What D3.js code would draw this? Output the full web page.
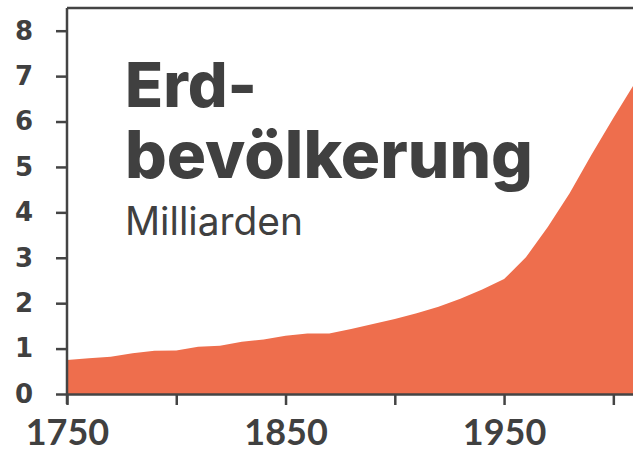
<!DOCTYPE html>
<html>
<head>
<meta charset="utf-8">
<script src="https://cdn.jsdelivr.net/npm/d3@7"></script>
<style>
  body { margin: 0; background: #fff; }
  .axis text { font-family: Lato, sans-serif; font-weight: 700; fill: #404040; }
  .y.axis text { font-family: "DejaVu Sans", sans-serif; }
  .axis path, .axis line { stroke: #444; stroke-width: 2.5; }
</style>
</head>
<body>
<div id="chart"></div>
<script>
// world population in billions
var years  = [1750, 1760, 1770, 1780, 1790, 1800, 1810, 1820, 1830, 1840, 1850, 1860, 1870, 1880, 1890,
              1900, 1910, 1920, 1930, 1940, 1950, 1960, 1970, 1980, 1990, 2000, 2009];
var values = [0.75, 0.785, 0.82, 0.90, 0.95, 0.96, 1.04, 1.06, 1.15, 1.20, 1.28, 1.33, 1.33, 1.43, 1.54,
              1.65, 1.78, 1.92, 2.10, 2.30, 2.53, 3.01, 3.68, 4.42, 5.27, 6.08, 6.78];
var yTicks = [0, 1, 2, 3, 4, 5, 6, 7, 8];
var xTicks = [1750, 1800, 1850, 1900, 1950, 2000];
var xLabels = [1750, 1850, 1950];

var margin = {top: 8, right: 0, bottom: 59, left: 67},
    width = 633 - margin.left - margin.right,
    height = 453 - margin.top - margin.bottom;

var data = years.map(function(d, i) { return {year: d, pop: values[i]}; });

var x = d3.scaleLinear().domain([1750, 2009]).range([0, width]);
var y = d3.scaleLinear().domain([0, 8.5]).range([height, 0]);

var svg = d3.select("#chart").append("svg")
    .attr("width", width + margin.left + margin.right)
    .attr("height", height + margin.top + margin.bottom)
  .append("g")
    .attr("transform", "translate(" + margin.left + "," + margin.top + ")");

var area = d3.area()
    .x(function(d) { return x(d.year); })
    .y0(height)
    .y1(function(d) { return y(d.pop); });

svg.append("path")
    .datum(data)
    .attr("fill", "#ee6e4d")
    .attr("d", area);

// top frame line
svg.append("line")
    .attr("x1", 0).attr("x2", width)
    .attr("y1", 0).attr("y2", 0)
    .attr("stroke", "#444")
    .attr("stroke-width", 2.5);

var xAxis = d3.axisBottom(x)
    .tickValues(xTicks)
    .tickSize(11)
    .tickSizeOuter(0)
    .tickPadding(14)
    .tickFormat(function(d) { return xLabels.indexOf(d) >= 0 ? d : ""; });

svg.append("g")
    .attr("class", "x axis")
    .attr("transform", "translate(0," + height + ")")
    .call(xAxis)
    .selectAll("text")
    .style("font-size", "36px");

var yAxis = d3.axisLeft(y)
    .tickValues(yTicks)
    .tickSize(11)
    .tickSizeOuter(0)
    .tickPadding(23);

var yg = svg.append("g")
    .attr("class", "y axis")
    .call(yAxis);
yg.selectAll("text").style("font-size", "26px");
yg.select(".domain").attr("d", "M0,0V" + (height + 10));

// title
function fitText(sel, target) {
  var w = sel.node().getComputedTextLength();
  var fs = parseFloat(sel.style("font-size"));
  sel.style("font-size", (fs * target / w) + "px");
}

var t1 = svg.append("text")
    .attr("x", 125 - margin.left)
    .attr("y", 107 - margin.top)
    .style("font-family", "Inter, sans-serif")
    .style("font-weight", 800)
    .style("font-size", "64px")
    .style("fill", "#404040")
    .text("Erd-");
fitText(t1, 132);

var t2 = svg.append("text")
    .attr("x", 125 - margin.left)
    .attr("y", 178 - margin.top)
    .style("font-family", "Inter, sans-serif")
    .style("font-weight", 800)
    .style("font-size", "64px")
    .style("fill", "#404040")
    .text("bevölkerung");
fitText(t2, 408);

var t3 = svg.append("text")
    .attr("x", 125 - margin.left)
    .attr("y", 235 - margin.top)
    .style("font-family", "Inter, sans-serif")
    .style("font-weight", 400)
    .style("font-size", "32px")
    .style("fill", "#404040")
    .text("Milliarden");
fitText(t3, 178);
</script>
</body>
</html>
